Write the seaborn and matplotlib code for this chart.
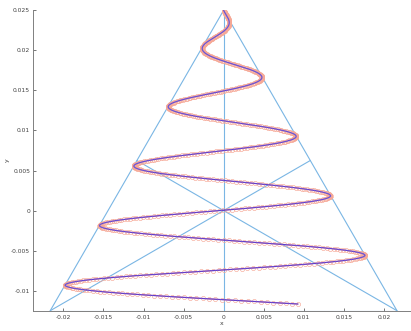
import numpy as np
import pandas as pd
import matplotlib
matplotlib.use("Agg")
import matplotlib.pyplot as plt
import seaborn as sns

# Triangle: apex and two base corners (equilateral, centred on the origin)
apex = [0.0, 0.025]
base_left = [-0.02165, -0.0125]
base_right = [0.02165, -0.0125]

# Conical helix inscribed in the triangle, projected on the x-y plane
helix_top_y = 0.025
helix_phase_start = 0.93      # rad
helix_phase_end = 31.87       # rad
helix_drop_per_rad = 0.001185
helix_samples = 800

x_ticks = [-0.02, -0.015, -0.01, -0.005, 0, 0.005, 0.01, 0.015, 0.02]
x_tick_labels = ["-0.02", "-0.015", "-0.01", "-0.005", "0", "0.005", "0.01", "0.015", "0.02"]
y_ticks = [-0.01, -0.005, 0, 0.005, 0.01, 0.015, 0.02, 0.025]
y_tick_labels = ["-0.01", "-0.005", "0", "0.005", "0.01", "0.015", "0.02", "0.025"]

sns.set_style("ticks")
plt.rcParams["font.family"] = ["DejaVu Sans"]

fig = plt.figure(figsize=(4.11, 3.31), dpi=100)
ax = fig.add_axes([0.0803, 0.0613, 0.9197, 0.9076])

# helix samples
theta = np.linspace(helix_phase_start, helix_phase_end, helix_samples)
hy = helix_top_y - helix_drop_per_rad * (theta - helix_phase_start)
radius = (helix_top_y - hy) / np.sqrt(3)
hx = radius * np.sin(theta)
helix = pd.DataFrame({"x": hx, "y": hy})

# triangle edges and medians
mid_left = [(apex[0] + base_left[0]) / 2, (apex[1] + base_left[1]) / 2]
mid_right = [(apex[0] + base_right[0]) / 2, (apex[1] + base_right[1]) / 2]
mid_base = [(base_left[0] + base_right[0]) / 2, base_left[1]]
segments = [
    (apex, base_left), (base_left, base_right), (base_right, apex),
    (apex, mid_base), (base_left, mid_right), (base_right, mid_left),
]
seg_rows = []
for i, (p, q) in enumerate(segments):
    seg_rows.append({"seg": i, "x": p[0], "y": p[1]})
    seg_rows.append({"seg": i, "x": q[0], "y": q[1]})
seg_df = pd.DataFrame(seg_rows)

line_blue = "#7ab6e4"
for i, g in seg_df.groupby("seg"):
    sns.lineplot(data=g, x="x", y="y", sort=False, estimator=None,
                 color=line_blue, lw=0.8, ax=ax)

sns.lineplot(data=helix, x="x", y="y", sort=False, estimator=None,
             color="#e8303a", lw=0.7, marker="o", markersize=3.0,
             markerfacecolor="none", markeredgecolor="#f6a896",
             markeredgewidth=0.45, ax=ax)
sns.lineplot(data=helix, x="x", y="y", sort=False, estimator=None,
             color="#3c3cf0", lw=0.9, alpha=0.75, ax=ax)

ax.set_xlim(-0.0238, 0.0234)
ax.set_ylim(-0.0125, 0.025)
ax.set_xticks(x_ticks)
ax.set_xticklabels(x_tick_labels)
ax.set_yticks(y_ticks)
ax.set_yticklabels(y_tick_labels)

for side in ["top", "right"]:
    ax.spines[side].set_visible(False)
for side in ["left", "bottom"]:
    ax.spines[side].set_color("#808080")
    ax.spines[side].set_linewidth(0.7)

ax.tick_params(direction="in", length=2.5, width=0.6, color="#606060",
               labelsize=4.3, labelcolor="#404040")
ax.tick_params(axis="x", pad=3)
ax.tick_params(axis="y", pad=2)
ax.set_xlabel("x", fontsize=4.5, color="#404040", labelpad=1)
ax.set_ylabel("y", fontsize=4.5, color="#404040", labelpad=1)

fig.savefig("out.png", dpi=100)
